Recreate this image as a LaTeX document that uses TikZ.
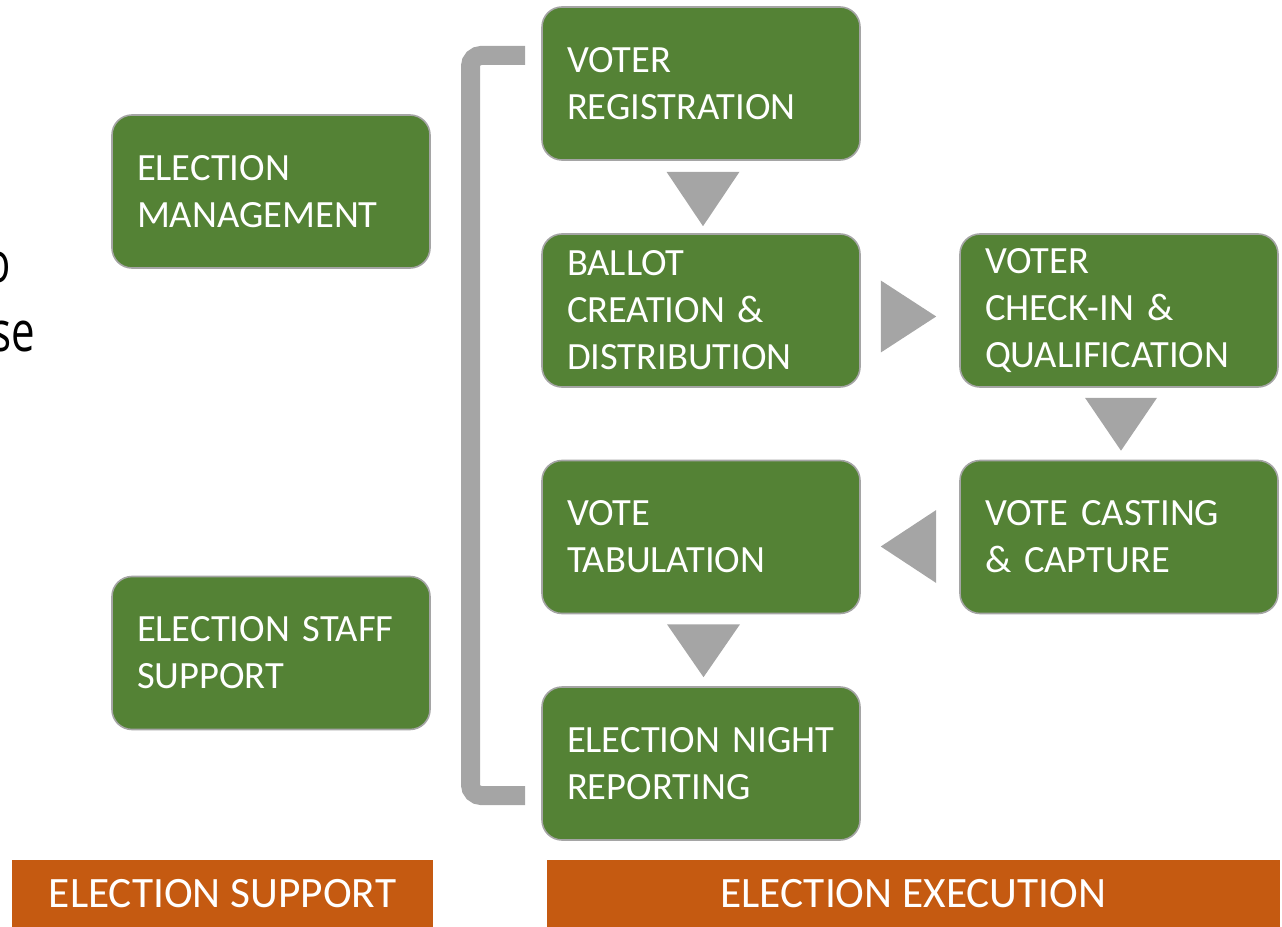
\documentclass[tikz,border=0pt]{standalone}
\usepackage{fontspec}
\usepackage{graphicx}
\setmainfont{Carlito}
\newfontfamily\sidefont{Open Sans}
\usetikzlibrary{calc}
\definecolor{boxgreen}{HTML}{548235}
\definecolor{boxedge}{HTML}{A5A5A5}
\definecolor{arrgray}{HTML}{A5A5A5}
\definecolor{barorange}{HTML}{C55A11}
\tikzset{
  stepbox/.style={rectangle, rounded corners=15pt, fill=boxgreen, draw=boxedge, line width=1.2pt,
    text=white, font=\fontsize{28.9}{35.25}\selectfont, align=left,
    text width=201pt, inner xsep=18.75pt, inner ysep=0pt,
    minimum width=238.5pt, minimum height=114.75pt},
  barbox/.style={rectangle, fill=barorange, draw=none, text=white,
    font=\fontsize{32.5}{38}\selectfont, inner sep=0pt, minimum height=51pt},
  arrtri/.style={fill=arrgray, draw=none},
  bracket/.style={draw=arrgray, line width=14.25pt, rounded corners=8pt},
  sidetext/.style={font=\sidefont\fontsize{42}{48}\selectfont, inner sep=0pt, text=black}
}
\begin{document}
\begin{tikzpicture}[x=0.75pt,y=-0.75pt]
\useasboundingbox (0,0) rectangle (1282,927);
% cut-off side text
\node[sidetext, anchor=base east] (o) at (11,283) {\scalebox{0.75}[1]{o}};
\node[sidetext, anchor=base east] (se) at (35,352) {\scalebox{0.75}[1]{se}};
% support boxes
\node[stepbox] (em) at (271,191.5) {ELECTION\\MANAGEMENT};
\node[stepbox] (ess) at (271,653) {ELECTION~STAFF\\SUPPORT};
% execution boxes
\node[stepbox] (vr) at (701,83.5) {VOTER\\REGISTRATION};
\node[stepbox] (bc) at (701,310.5) {BALLOT\\CREATION~\&\\DISTRIBUTION};
\node[stepbox] (vc) at (1119,310.5) {VOTER\\CHECK-IN~\&\\QUALIFICATION};
\node[stepbox] (vcc) at (1119,537) {VOTE~CASTING\\\&~CAPTURE};
\node[stepbox] (vt) at (701,537) {VOTE\\TABULATION};
\node[stepbox] (en) at (701,763.5) {ELECTION~NIGHT\\REPORTING};
% bars
\node[barbox, minimum width=315.75pt] (sup) at (222.5,894) {ELECTION SUPPORT};
\node[barbox, minimum width=549.75pt] (exe) at (913.5,894) {ELECTION EXECUTION};
% bracket
\coordinate (bt) at (525,55.5);
\coordinate (bb) at (525,795.5);
\draw[bracket] (bt) -- (470.5,55.5) -- (470.5,795.5) -- (bb);
% flow triangles
\fill[arrtri] ($(vr.south)+(-34.5,11)$) -- ($(vr.south)+(38.5,11)$) -- ($(bc.north)+(2,-7)$) -- cycle;
\fill[arrtri] ($(bc.east)+(20,-30)$) -- ($(bc.east)+(20,42)$) -- ($(vc.west)+(-23,6)$) -- cycle;
\fill[arrtri] ($(vc.south)+(-34,10)$) -- ($(vc.south)+(38,10)$) -- ($(vcc.north)+(2,-9)$) -- cycle;
\fill[arrtri] ($(vcc.west)+(-23,-27)$) -- ($(vcc.west)+(-23,46)$) -- ($(vt.east)+(20,9.5)$) -- cycle;
\fill[arrtri] ($(vt.south)+(-34,10)$) -- ($(vt.south)+(39,10)$) -- ($(en.north)+(2.5,-9)$) -- cycle;
\end{tikzpicture}
\end{document}
